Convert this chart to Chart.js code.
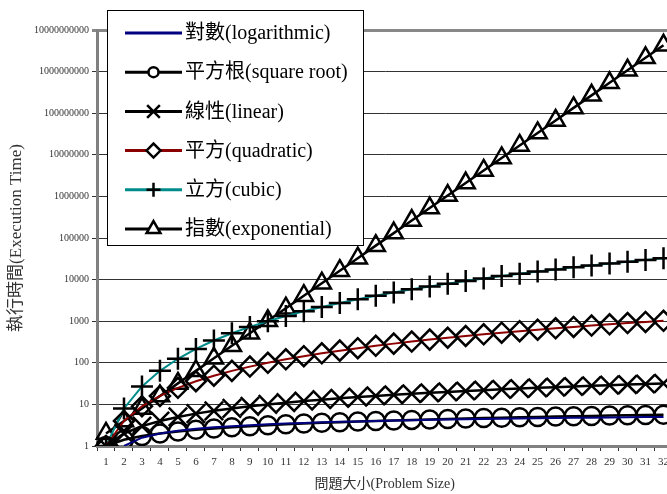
<!DOCTYPE html>
<html>
<head>
<meta charset="utf-8">
<script src="https://cdn.jsdelivr.net/npm/chart.js@4.4.0/dist/chart.umd.min.js"></script>
<style>
  html, body { margin: 0; padding: 0; background: #fff; overflow: hidden; }
  #wrap { width: 667px; height: 494px; overflow: hidden; position: relative; }
  #chart { position: absolute; left: 0; top: 0; }
</style>
</head>
<body>
<div id="wrap"><canvas id="chart" width="688" height="494"></canvas></div>
<script>
// Problem sizes on the x axis
const SIZES = ["1","2","3","4","5","6","7","8","9","10","11","12","13","14","15","16",
  "17","18","19","20","21","22","23","24","25","26","27","28","29","30","31","32"];

// Execution time per growth class
const LOG_VALUES = [null, 1, 1.585, 2, 2.322, 2.585, 2.807, 3, 3.17, 3.322, 3.459, 3.585,
  3.7, 3.807, 3.907, 4, 4.087, 4.17, 4.248, 4.322, 4.392, 4.459, 4.524, 4.585, 4.644,
  4.7, 4.755, 4.807, 4.858, 4.907, 4.954, 5];
const SQRT_VALUES = [1, 1.414, 1.732, 2, 2.236, 2.449, 2.646, 2.828, 3, 3.162, 3.317, 3.464,
  3.606, 3.742, 3.873, 4, 4.123, 4.243, 4.359, 4.472, 4.583, 4.69, 4.796, 4.899, 5,
  5.099, 5.196, 5.292, 5.385, 5.477, 5.568, 5.657];
const LINEAR_VALUES = [1, 2, 3, 4, 5, 6, 7, 8, 9, 10, 11, 12, 13, 14, 15, 16, 17, 18, 19, 20,
  21, 22, 23, 24, 25, 26, 27, 28, 29, 30, 31, 32];
const QUAD_VALUES = [1, 4, 9, 16, 25, 36, 49, 64, 81, 100, 121, 144, 169, 196, 225, 256, 289,
  324, 361, 400, 441, 484, 529, 576, 625, 676, 729, 784, 841, 900, 961, 1024];
const CUBIC_VALUES = [1, 8, 27, 64, 125, 216, 343, 512, 729, 1000, 1331, 1728, 2197, 2744,
  3375, 4096, 4913, 5832, 6859, 8000, 9261, 10648, 12167, 13824, 15625, 17576, 19683,
  21952, 24389, 27000, 29791, 32768];
const EXP_VALUES = [2, 4, 8, 16, 32, 64, 128, 256, 512, 1024, 2048, 4096, 8192, 16384, 32768,
  65536, 131072, 262144, 524288, 1048576, 2097152, 4194304, 8388608, 16777216, 33554432,
  67108864, 134217728, 268435456, 536870912, 1073741824, 2147483648, 4294967296];

// Y axis tick labels (powers of ten)
const Y_TICKS = [1, 10, 100, 1000, 10000, 100000, 1000000, 10000000, 100000000,
  1000000000, 10000000000];

const SERIF = '"Liberation Serif", "Noto Sans CJK TC", serif';

// Legend radius for each series marker
const LEGEND_RADIUS = [0, 5, 9, 7, 7, 8];

// Draws the boxed legend in the upper left, over the plot
const legendBox = {
  id: "legendBox",
  afterDraw(chart) {
    const ctx = chart.ctx;
    ctx.save();
    ctx.fillStyle = "#fff";
    ctx.fillRect(107, 10, 256, 235);
    ctx.strokeStyle = "#000";
    ctx.lineWidth = 1;
    ctx.strokeRect(107.5, 10.5, 256, 235);

    chart.data.datasets.forEach((ds, i) => {
      const y = 33 + i * 39.2;
      ctx.strokeStyle = ds.borderColor;
      ctx.lineWidth = 3;
      ctx.beginPath();
      ctx.moveTo(125, y);
      ctx.lineTo(182, y);
      ctx.stroke();
      if (ds.pointRadius > 0) {
        ctx.strokeStyle = "#000";
        ctx.fillStyle = "#fff";
        ctx.lineWidth = 2.5;
        Chart.helpers.drawPoint(ctx, {
          pointStyle: ds.pointStyle,
          radius: LEGEND_RADIUS[i],
          rotation: 0,
          borderWidth: 2.5,
        }, 153.5, y);
      }
      ctx.fillStyle = "#000";
      ctx.font = "20px " + SERIF;
      ctx.textBaseline = "middle";
      ctx.textAlign = "left";
      ctx.fillText(ds.label, 185, y + 1);
    });
    ctx.restore();
  },
};

function series(label, data, color, width, style, radius) {
  return {
    label: label,
    data: data,
    borderColor: color,
    borderWidth: width,
    pointStyle: style,
    pointRadius: radius,
    pointBorderColor: "#000",
    pointBackgroundColor: "rgba(0,0,0,0)",
    pointBorderWidth: 2.5,
    tension: 0,
    fill: false,
    spanGaps: false,
  };
}

new Chart(document.getElementById("chart"), {
  type: "line",
  data: {
    labels: SIZES,
    datasets: [
      series("對數(logarithmic)", LOG_VALUES, "#000080", 2, "circle", 0),
      series("平方根(square root)", SQRT_VALUES, "#000", 2.5, "circle", 9),
      series("線性(linear)", LINEAR_VALUES, "#000", 2.5, "crossRot", 13),
      series("平方(quadratic)", QUAD_VALUES, "#8b0000", 2, "rectRot", 10),
      series("立方(cubic)", CUBIC_VALUES, "#008b8b", 2, "cross", 11),
      series("指數(exponential)", EXP_VALUES, "#000", 2.5, "triangle", 10.5),
    ],
  },
  options: {
    responsive: false,
    animation: false,
    layout: { padding: { top: 30, right: 0, left: 0, bottom: 0 } },
    plugins: {
      legend: { display: false },
      tooltip: { enabled: false },
    },
    scales: {
      x: {
        type: "category",
        offset: true,
        afterFit: (scale) => { scale.height = 48; },
        border: { display: true, color: "#808080", width: 3 },
        grid: { drawOnChartArea: false, drawTicks: true, tickLength: 5, color: "#333", offset: true },
        ticks: {
          autoSkip: false,
          maxRotation: 0,
          padding: 5,
          color: "#333",
          font: { family: SERIF, size: 11 },
        },
        title: {
          display: true,
          text: "問題大小(Problem Size)",
          color: "#333",
          font: { family: SERIF, size: 14 },
          padding: { top: 0, bottom: 1 },
        },
      },
      y: {
        type: "logarithmic",
        min: 1,
        max: 10000000000,
        afterFit: (scale) => { scale.width = 97; },
        afterBuildTicks: (scale) => {
          scale.ticks = Y_TICKS.map((v) => ({ value: v, major: true }));
        },
        border: { display: true, color: "#808080", width: 3 },
        grid: {
          color: (ctx) => (ctx.tick && ctx.tick.value === 10000000000 ? "#888" : "#333"),
          lineWidth: (ctx) => (ctx.tick && ctx.tick.value === 10000000000 ? 3 : 1),
          tickLength: 5,
        },
        ticks: {
          padding: 3,
          color: "#333",
          font: { family: SERIF, size: 10 },
          callback: (v) => String(v),
        },
        title: {
          display: true,
          text: "執行時間(Execution Time)",
          color: "#333",
          font: { family: SERIF, size: 17 },
          padding: { top: 6, bottom: 0 },
        },
      },
    },
  },
  plugins: [legendBox],
});
</script>
</body>
</html>
